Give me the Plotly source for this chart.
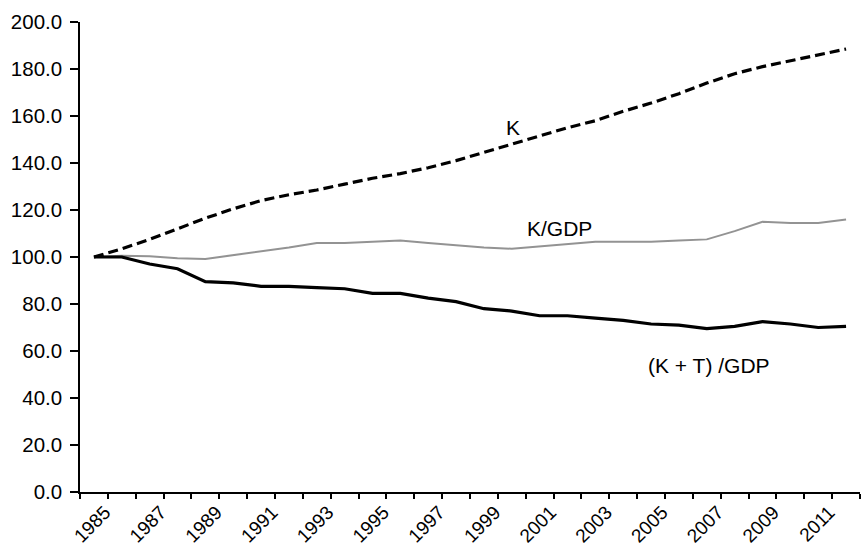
import plotly.graph_objects as go

years = list(range(1985, 2013))
k_series = [100, 103.5, 107.5, 112, 116.5, 120.5, 124, 126.5, 128.5, 131,
            133.5, 135.5, 138, 141, 144.5, 148, 151.5, 155, 158, 162,
            165.5, 169.5, 174, 178, 181, 183.5, 186, 188.5]
k_gdp = [100, 100.5, 100.3, 99.5, 99.2, 100.8, 102.5, 104, 106, 106,
         106.5, 107, 106, 105, 104, 103.5, 104.5, 105.5, 106.5, 106.5,
         106.5, 107, 107.5, 111, 115, 114.5, 114.5, 116]
kt_gdp = [100, 100, 97, 95, 89.5, 89, 87.5, 87.5, 87, 86.5,
          84.5, 84.5, 82.5, 81, 78, 77, 75, 75, 74, 73,
          71.5, 71, 69.5, 70.5, 72.5, 71.5, 70, 70.5]

y_ticks = [0, 20, 40, 60, 80, 100, 120, 140, 160, 180, 200]
x_label_years = list(range(1985, 2012, 2))

font = "Liberation Sans, Arial, sans-serif"

fig = go.Figure()
fig.add_trace(go.Scatter(x=years, y=k_gdp, mode="lines",
                         line=dict(color="#939393", width=2), name="K/GDP"))
fig.add_trace(go.Scatter(x=years, y=kt_gdp, mode="lines",
                         line=dict(color="black", width=3.2), name="(K + T) /GDP"))
fig.add_trace(go.Scatter(x=years, y=k_series, mode="lines",
                         line=dict(color="black", width=3.2, dash="10px,5px"), name="K"))

# labels sit just after each labelled year's category; tick marks at category boundaries
label_pos = [y + 0.4 for y in x_label_years]
boundaries = [y - 0.5 for y in range(1985, 2014)]

fig.update_layout(
    width=863, height=549,
    margin=dict(l=80, r=3, t=22, b=57),
    paper_bgcolor="white", plot_bgcolor="white",
    showlegend=False,
    font=dict(family=font, size=20, color="black"),
    xaxis=dict(range=[1984.5, 2012.5], tickvals=label_pos,
               ticktext=[str(y) for y in x_label_years],
               tickangle=-45, ticks="", ticklabelstandoff=0, automargin=False,
               minor=dict(tickvals=boundaries, ticks="outside", ticklen=5,
                          tickwidth=1.5, tickcolor="black", showgrid=False),
               showline=True, linecolor="black", linewidth=1.5,
               showgrid=False, zeroline=False, tickfont=dict(size=19)),
    yaxis=dict(range=[0, 200], tickvals=y_ticks,
               ticktext=[f"{v:.1f}" for v in y_ticks], automargin=False,
               ticks="outside", ticklen=8, tickwidth=1.5, tickcolor="black",
               showline=True, linecolor="black", linewidth=1.5,
               showgrid=False, zeroline=False, ticklabelstandoff=4,
               tickfont=dict(size=20.5)),
    annotations=[
        dict(x=2000.03, y=155.3, text="K", showarrow=False, font=dict(size=21)),
        dict(x=2001.73, y=112.1, text="K/GDP", showarrow=False, font=dict(size=21)),
        dict(x=2007.08, y=54.0, text="(K + T) /GDP", showarrow=False, font=dict(size=21)),
    ],
)

# remove the browser's default page margin so the figure sits at the window's corner
fig.write_html(
    "out.html",
    config={"displayModeBar": False},
    post_script="document.body.style.margin='0';document.body.style.overflow='hidden';",
)
